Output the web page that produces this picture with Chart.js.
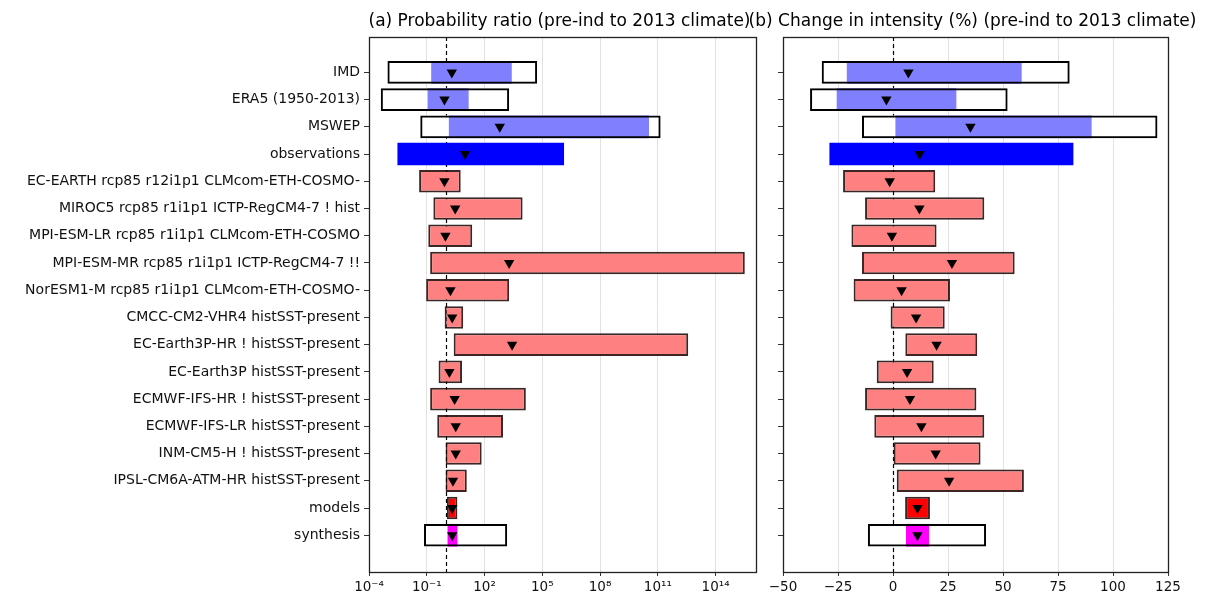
<!DOCTYPE html>
<html>
<head>
<meta charset="utf-8">
<script src="https://cdn.jsdelivr.net/npm/chart.js@4.4.1/dist/chart.umd.min.js"></script>
<style>
  html, body { margin: 0; padding: 0; background: #fff; }
  #wrap { position: relative; width: 1207px; height: 606px; }
  #wrap canvas { position: absolute; left: 0; top: 0; }
</style>
</head>
<body>
<div id="wrap">
  <canvas id="prChart" width="1207" height="606"></canvas>
  <canvas id="intChart" width="1207" height="606"></canvas>
</div>
<script>
const rowLabels = [
  'IMD',
  'ERA5 (1950-2013)',
  'MSWEP',
  'observations',
  'EC-EARTH rcp85 r12i1p1 CLMcom-ETH-COSMO-',
  'MIROC5 rcp85 r1i1p1 ICTP-RegCM4-7 ! hist',
  'MPI-ESM-LR rcp85 r1i1p1 CLMcom-ETH-COSMO',
  'MPI-ESM-MR rcp85 r1i1p1 ICTP-RegCM4-7 !!',
  'NorESM1-M rcp85 r1i1p1 CLMcom-ETH-COSMO-',
  'CMCC-CM2-VHR4 histSST-present',
  'EC-Earth3P-HR ! histSST-present',
  'EC-Earth3P histSST-present',
  'ECMWF-IFS-HR ! histSST-present',
  'ECMWF-IFS-LR histSST-present',
  'INM-CM5-H ! histSST-present',
  'IPSL-CM6A-ATM-HR histSST-present',
  'models',
  'synthesis'
];

// probability ratio: best estimate and confidence interval
const prBest = [2.0, 0.83, 620, 9.8, 0.83, 3.0, 0.93, 1900, 1.7, 2.1, 2700, 1.5, 2.8, 3.2, 3.2, 2.3, 2.1, 2.1];
const prLow  = [0.17, 0.11, 1.4, 3.0e-3, 0.04, 0.22, 0.12, 0.15, 0.093, 0.85, 2.5, 0.41, 0.15, 0.35, 0.95, 0.95, 1.1, 1.2];
const prHigh = [2.6e3, 15, 3.5e10, 1.35e6, 5.8, 9.5e3, 23, 3.3e15, 1.9e3, 7.8, 3.8e12, 6.8, 1.4e4, 910, 71, 12, 3.9, 3.9];
// wider interval incl. representation error (only some rows)
const prOuterLow  = [9.1e-4, 4.1e-4, 0.046, null, null, null, null, null, null, null, null, null, null, null, null, null, null, 0.072];
const prOuterHigh = [5.4e4, 1.9e3, 1.4e11, null, null, null, null, null, null, null, null, null, null, null, null, null, null, 1.5e3];

// change in intensity (%)
const intBest = [7.0, -3.0, 35.2, 12.1, -1.5, 12.0, -0.5, 26.8, 3.9, 10.5, 19.8, 6.4, 7.7, 12.9, 19.4, 25.5, 11.1, 11.1];
const intLow  = [-21.0, -25.6, 1.1, -28.9, -22.7, -12.7, -18.9, -14.1, -17.9, -1.1, 5.6, -7.4, -12.7, -8.5, 0.3, 1.7, 5.5, 5.9];
const intHigh = [58.5, 28.8, 90.3, 82.0, 19.2, 41.5, 19.8, 55.3, 25.9, 23.5, 38.3, 18.5, 37.9, 41.5, 39.8, 59.5, 16.8, 16.4];
const intOuterLow  = [-32.4, -37.7, -14.1, null, null, null, null, null, null, null, null, null, null, null, null, null, null, -11.4];
const intOuterHigh = [80.3, 52.1, 120.2, null, null, null, null, null, null, null, null, null, null, null, null, null, null, 42.3];

const prTicks = [1e-4, 1e-1, 1e2, 1e5, 1e8, 1e11, 1e14];
const prTickLabels = ['10\u207B\u2074', '10\u207B\u00B9', '10\u00B2', '10\u2075', '10\u2078', '10\u00B9\u00B9', '10\u00B9\u2074'];
const intTicks = [-50, -25, 0, 25, 50, 75, 100, 125];
const intTickLabels = ['\u221250', '\u221225', '0', '25', '50', '75', '100', '125'];

Chart.defaults.font.family = "'DejaVu Sans', sans-serif";

const nRows = rowLabels.length;
function rowFill(i) {
  if (i < 3) return '#8080ff';
  if (i === 3) return '#0000ff';
  if (i === nRows - 2) return '#ff0000';
  if (i === nRows - 1) return '#ff00ff';
  return '#ff8080';
}
function rowEdge(i) {
  return (i < 4 || i === nRows - 1) ? 0 : 2;
}

// dashed "no change" line, under the bars
const refLinePlugin = {
  id: 'refLine',
  beforeDatasetsDraw(chart, args, opts) {
    const { ctx, chartArea } = chart;
    const x = Math.round(chart.scales.x.getPixelForValue(opts.value)) + 0.5;
    ctx.save();
    ctx.strokeStyle = '#000';
    ctx.lineWidth = 1.2;
    ctx.setLineDash([4, 3]);
    ctx.beginPath();
    ctx.moveTo(x, chartArea.top);
    ctx.lineTo(x, chartArea.bottom);
    ctx.stroke();
    ctx.restore();
  }
};

// box around the axes + panel title (not squeezed to the axes width)
const framePlugin = {
  id: 'frame',
  afterDraw(chart, args, opts) {
    const { ctx, chartArea: a } = chart;
    ctx.save();
    ctx.strokeStyle = '#222';
    ctx.lineWidth = 1.3;
    ctx.strokeRect(Math.round(a.left) + 0.5, Math.round(a.top) + 0.5,
      Math.round(a.right - a.left), Math.round(a.bottom - a.top));
    ctx.fillStyle = '#000';
    ctx.font = "17px 'DejaVu Sans', sans-serif";
    ctx.textAlign = 'center';
    ctx.textBaseline = 'middle';
    ctx.fillText(opts.title, (a.left + a.right) / 2 - 3, 21.5);
    ctx.restore();
  }
};

function makePanel(id, p) {
  const outerRows = rowLabels.map((_, i) => i).filter(i => p.outerLow[i] !== null);
  const outerData = outerRows.map(i => ({ x: [p.outerLow[i], p.outerHigh[i]], y: i }));

  return new Chart(document.getElementById(id), {
    type: 'bar',
    data: {
      datasets: [
        {
          type: 'scatter',
          data: p.best.map((v, i) => ({ x: v, y: i })),
          order: 0,
          pointStyle: 'triangle',
          rotation: 180,
          pointRadius: 6,
          backgroundColor: '#000',
          borderColor: '#000',
          borderWidth: 0
        },
        {
          data: outerData,
          order: 1,
          backgroundColor: 'rgba(0,0,0,0)',
          borderColor: '#000',
          borderWidth: 2
        },
        {
          data: p.low.map((v, i) => ({ x: [v, p.high[i]], y: i })),
          order: 2,
          backgroundColor: rowLabels.map((_, i) => rowFill(i)),
          borderColor: 'rgba(25,0,0,0.85)',
          borderWidth: rowLabels.map((_, i) => rowEdge(i))
        },
        {
          data: outerData,
          order: 3,
          backgroundColor: '#fff',
          borderWidth: 0
        }
      ]
    },
    options: {
      indexAxis: 'y',
      responsive: false,
      animation: false,
      devicePixelRatio: 1,
      events: [],
      layout: { padding: { left: 0, right: p.padRight, top: 37, bottom: 0 } },
      datasets: {
        bar: { grouped: false, barPercentage: 0.83, categoryPercentage: 1, borderSkipped: false }
      },
      plugins: {
        legend: { display: false },
        tooltip: { enabled: false },
        title: { display: false },
        refLine: { value: p.refValue },
        frame: { title: p.title }
      },
      scales: {
        x: Object.assign({
          afterBuildTicks: s => { s.ticks = p.ticks.map(v => ({ value: v })); },
          afterFit: s => { s.height = 34; s.paddingLeft = 0; s.paddingRight = 0; },
          ticks: {
            autoSkip: false, maxRotation: 0, padding: 3, color: '#111', font: { size: 13.5 },
            callback: (v, i) => p.tickLabels[i]
          },
          grid: { color: '#e2e2e2', tickColor: '#333', tickLength: 4 },
          border: { display: false }
        }, p.xScale),
        y: {
          type: 'linear',
          min: -1.3,
          max: 18.35,
          reverse: true,
          offset: false,
          afterBuildTicks: s => { s.ticks = rowLabels.map((_, i) => ({ value: i })); },
          afterFit: s => { s.width = p.axisLeft; s.paddingTop = 0; s.paddingBottom = 0; },
          ticks: {
            autoSkip: false, padding: 4, color: '#111', font: { size: 14 },
            callback: v => p.showLabels ? rowLabels[v] : ''
          },
          grid: { drawOnChartArea: false, offset: false, tickLength: 5, tickColor: '#333' },
          border: { display: false }
        }
      }
    },
    plugins: [refLinePlugin, framePlugin]
  });
}

makePanel('prChart', {
  title: '(a) Probability ratio (pre-ind to 2013 climate)',
  best: prBest, low: prLow, high: prHigh, outerLow: prOuterLow, outerHigh: prOuterHigh,
  ticks: prTicks, tickLabels: prTickLabels,
  xScale: { type: 'logarithmic', min: 1e-4, max: 1.26e16 },
  refValue: 1,
  axisLeft: 369,
  padRight: 451,
  showLabels: true
});

makePanel('intChart', {
  title: '(b) Change in intensity (%) (pre-ind to 2013 climate)',
  best: intBest, low: intLow, high: intHigh, outerLow: intOuterLow, outerHigh: intOuterHigh,
  ticks: intTicks, tickLabels: intTickLabels,
  xScale: { type: 'linear', min: -50, max: 125 },
  refValue: 0,
  axisLeft: 783,
  padRight: 39,
  showLabels: false
});
</script>
</body>
</html>
